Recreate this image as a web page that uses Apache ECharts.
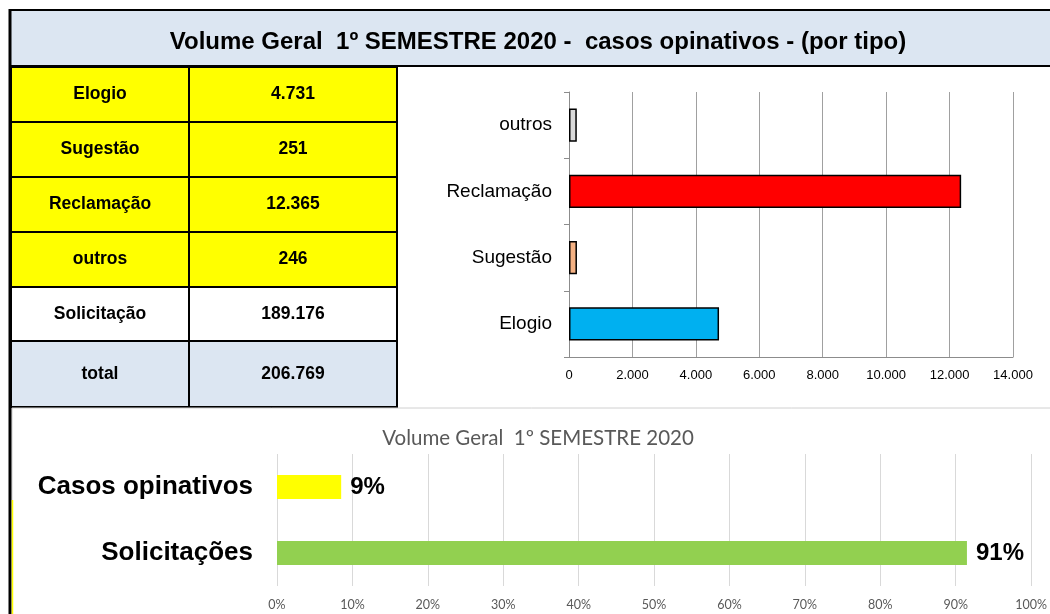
<!DOCTYPE html>
<html><head><meta charset="utf-8">
<script src="https://cdn.jsdelivr.net/npm/echarts@6/dist/echarts.min.js"></script>
<style>html,body{margin:0;padding:0;background:#fff}#c{width:1050px;height:614px}</style>
</head><body><div id="c"></div>
<script>
// ---- data ----
const titleText = 'Volume Geral  1º SEMESTRE 2020 -  casos opinativos - (por tipo)';
const types = ['Elogio', 'Sugestão', 'Reclamação', 'outros'];
const typeValues = [4731, 251, 12365, 246];
const solicitacaoLabel = 'Solicitação';
const solicitacaoValue = 189176;
const totalLabel = 'total';
const totalValue = 206769;
const topTicks = [0, 2000, 4000, 6000, 8000, 10000, 12000, 14000];
const bottomTitle = 'Volume Geral  1º SEMESTRE 2020';
const shareCats = ['Solicitações', 'Casos opinativos'];
const shareValues = [91.49, 8.51];
const shareTicks = [0, 10, 20, 30, 40, 50, 60, 70, 80, 90, 100];

// ---- style ----
const FONT = "'Liberation Sans', Arial, sans-serif";
const typeColors = ['#00B0F0', '#F4B183', '#FF0000', '#D9D9D9'];
const shareColors = ['#92D050', '#FFFF00'];
const fmt = v => String(v).replace(/\B(?=(\d{3})+(?!\d))/g, '.');

const chart = echarts.init(document.getElementById('c'), null, {renderer: 'canvas'});

// table rows
const rows = types.map((t, i) => ({label: t, value: typeValues[i], fill: '#FFFF00'}));
rows.push({label: solicitacaoLabel, value: solicitacaoValue, fill: '#FFFFFF'});
rows.push({label: totalLabel, value: totalValue, fill: '#DCE6F2'});
const rowTops = [67, 122, 177, 232, 287, 341];
const rowHs = [55, 55, 55, 55, 54, 66];
const colX = [11, 189, 397];

const graphics = [];
graphics.push({type: 'rect', z: -5, shape: {x: 0, y: 0, width: 1050, height: 614}, style: {fill: '#fff'}});
// title band
graphics.push({type: 'rect', z: -4, shape: {x: 10, y: 10, width: 1050, height: 56}, style: {fill: '#DCE6F2', stroke: '#000', lineWidth: 2}});
graphics.push({type: 'text', z: 5, x: 538, y: 42, style: {text: titleText, font: 'bold 24px ' + FONT, fill: '#000', align: 'center', verticalAlign: 'middle'}});
// table
rows.forEach((r, i) => {
  for (let c = 0; c < 2; c++) {
    graphics.push({type: 'rect', z: -3, shape: {x: colX[c], y: rowTops[i], width: colX[c + 1] - colX[c], height: rowHs[i]}, style: {fill: r.fill, stroke: '#000', lineWidth: 2}});
  }
  graphics.push({type: 'text', z: 5, x: (colX[0] + colX[1]) / 2, y: rowTops[i] + rowHs[i] / 2, style: {text: r.label, font: 'bold 17.5px ' + FONT, fill: '#000', align: 'center', verticalAlign: 'middle'}});
  graphics.push({type: 'text', z: 5, x: (colX[1] + colX[2]) / 2, y: rowTops[i] + rowHs[i] / 2, style: {text: fmt(r.value), font: 'bold 17.5px ' + FONT, fill: '#000', align: 'center', verticalAlign: 'middle'}});
});
// bottom chart frame
graphics.push({type: 'rect', z: -2, shape: {x: 12, y: 408, width: 1045, height: 210}, style: {fill: '#fff', stroke: '#D0D0D0', lineWidth: 1}});
graphics.push({type: 'text', z: 5, x: 538, y: 438, style: {text: bottomTitle, font: '20.5px Lato, ' + FONT, fill: '#595959', align: 'center', verticalAlign: 'middle'}});
// left thick border and yellow sliver
graphics.push({type: 'line', z: 6, shape: {x1: 10, y1: 9, x2: 10, y2: 614}, style: {stroke: '#000', lineWidth: 3}});
graphics.push({type: 'line', z: 6, shape: {x1: 12.5, y1: 500, x2: 12.5, y2: 614}, style: {stroke: '#FFFF00', lineWidth: 1.5}});

chart.setOption({
  animation: false,
  graphic: {elements: graphics},
  grid: [
    {left: 569, right: 37, top: 92, bottom: 257},
    {left: 277, right: 17, top: 454, bottom: 28}
  ],
  xAxis: [
    {gridIndex: 0, type: 'value', min: topTicks[0], max: topTicks[topTicks.length - 1], interval: topTicks[1] - topTicks[0],
     axisLine: {show: true, lineStyle: {color: '#8C8C8C', width: 1}}, axisTick: {show: false},
     splitLine: {show: true, lineStyle: {color: '#A0A0A0', width: 1}},
     axisLabel: {color: '#000', fontFamily: FONT, fontSize: 13, margin: 12, formatter: v => fmt(v)}},
    {gridIndex: 1, type: 'value', min: shareTicks[0], max: shareTicks[shareTicks.length - 1], interval: shareTicks[1] - shareTicks[0],
     axisLine: {show: false}, axisTick: {show: false},
     splitLine: {show: true, lineStyle: {color: '#D9D9D9', width: 1}},
     axisLabel: {color: '#595959', fontFamily: 'Lato, ' + FONT, fontSize: 12.5, margin: 12, formatter: '{value}%'}}
  ],
  yAxis: [
    {gridIndex: 0, type: 'category', data: types,
     axisLine: {show: true, lineStyle: {color: '#8C8C8C', width: 1}},
     axisTick: {show: true, length: 5, lineStyle: {color: '#8C8C8C'}},
     axisLabel: {color: '#000', fontFamily: FONT, fontSize: 19, margin: 17}},
    {gridIndex: 1, type: 'category', data: shareCats,
     axisLine: {show: false}, axisTick: {show: false},
     axisLabel: {color: '#000', fontFamily: FONT, fontSize: 26, fontWeight: 'bold', margin: 24}}
  ],
  series: [
    {type: 'bar', xAxisIndex: 0, yAxisIndex: 0, barWidth: '50%',
     data: typeValues.map((v, i) => ({value: v, itemStyle: {color: typeColors[i]}})),
     itemStyle: {borderColor: '#000', borderWidth: 1.5}},
    {type: 'bar', xAxisIndex: 1, yAxisIndex: 1, barWidth: '36%',
     data: shareValues.map((v, i) => ({value: v, itemStyle: {color: shareColors[i]}})),
     label: {show: true, position: 'right', distance: 9, color: '#000', fontFamily: FONT, fontSize: 24, fontWeight: 'bold',
             formatter: p => Math.round(p.value) + '%'}}
  ]
});
</script></body></html>
